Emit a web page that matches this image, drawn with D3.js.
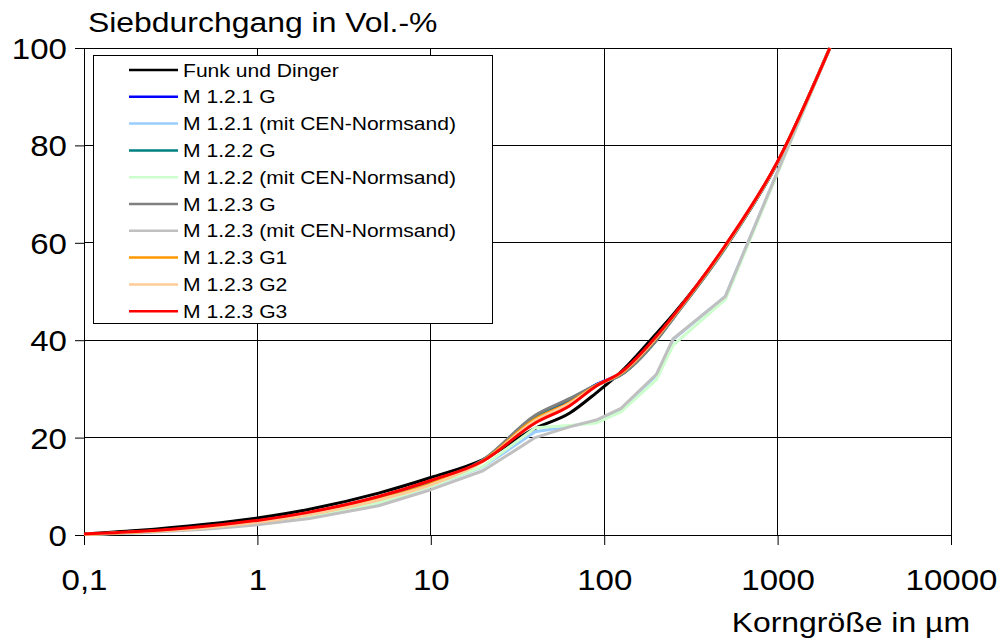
<!DOCTYPE html>
<html><head><meta charset="utf-8">
<script src="https://cdn.jsdelivr.net/npm/d3@7"></script>
<style>body{margin:0;background:#fff}svg{display:block}text{font-family:"Liberation Sans",Arial,sans-serif;fill:#000}</style>
</head><body><svg id="c" width="1000" height="641"></svg>
<script>
const sizes = [0.1, 0.2, 0.5, 1, 2, 5, 10, 20, 40, 63, 90, 125, 200, 250, 500, 1000, 2000];
const seriesNames = ["Funk und Dinger","M 1.2.1 G","M 1.2.1 (mit CEN-Normsand)","M 1.2.2 G","M 1.2.2 (mit CEN-Normsand)","M 1.2.3 G","M 1.2.3 (mit CEN-Normsand)","M 1.2.3 G1","M 1.2.3 G2","M 1.2.3 G3"];
const seriesColors = ["#000000","#0000ff","#99ccff","#008080","#ccffcc","#808080","#c0c0c0","#ff9900","#ffcc99","#ff0000"];
const seriesIsCEN = [false, false, true, false, true, false, true, false, false, false];
const funk    = [0.2, 0.9, 2.2, 3.5, 5.3, 8.6, 11.8, 15.5, 21.9, 25.0, 29.2, 33.5, 41.4, 45.3, 59.3, 76.6, 100];
const m121G   = [0.1, 0.6, 1.6, 2.8, 4.4, 7.5, 10.7, 15.3, 24.0, 27.5, 30.9, 33.2, 40.3, 44.8, 59.2, 76.5, 100];
const m121CEN = [0.1, 0.5, 1.4, 2.4, 3.8, 6.6, 10.0, 14.0, 21.2, 22.3, 23.4, 25.8, 32.8, 40.2, 49.0, 74.6, 100];
const m122G   = [0.1, 0.6, 1.6, 2.7, 4.3, 7.4, 10.6, 15.4, 24.4, 27.9, 30.8, 32.9, 40.0, 44.5, 59.0, 76.5, 100];
const m122CEN = [0.1, 0.5, 1.4, 2.4, 3.8, 6.6, 10.0, 14.1, 22.0, 22.5, 23.0, 25.3, 31.9, 39.0, 48.4, 74.3, 100];
const m123G   = [0.1, 0.6, 1.6, 2.7, 4.3, 7.4, 10.6, 15.4, 24.6, 28.0, 30.8, 32.9, 40.0, 44.5, 59.0, 76.5, 100];
const m123CEN = [0.1, 0.4, 1.2, 2.1, 3.4, 6.0, 9.3, 13.2, 20.0, 22.2, 23.6, 26.0, 33.0, 40.3, 49.0, 74.6, 100];
const m123G1  = [0.1, 0.6, 1.6, 2.7, 4.3, 7.3, 10.5, 15.2, 23.8, 27.2, 30.7, 33.2, 40.5, 44.8, 59.3, 76.6, 100];
const m123G2  = [0.1, 0.6, 1.5, 2.6, 4.2, 7.2, 10.3, 15.1, 23.5, 27.0, 30.6, 33.3, 40.6, 44.9, 59.4, 76.6, 100];
const m123G3  = [0.2, 0.7, 1.8, 3.0, 4.7, 7.9, 11.2, 15.2, 23.0, 26.5, 30.6, 33.4, 40.8, 45.0, 59.5, 76.7, 100];
const allSeries = [funk, m121G, m121CEN, m122G, m122CEN, m123G, m123CEN, m123G1, m123G2, m123G3];
const xTicks = [0.1, 1, 10, 100, 1000, 10000];
const xTickLabels = ["0,1", "1", "10", "100", "1000", "10000"];
const yTicks = [0, 20, 40, 60, 80, 100];
const titleY = "Siebdurchgang in Vol.-%";
const titleX = "Korngröße in µm";

const SX = 1.14;
const svg = d3.select("#c");
const x = d3.scaleLog().domain([0.1, 10000]).range([84, 951]);
const y = d3.scaleLinear().domain([0, 100]).range([535, 48]);

function stretchText(sel, tx, ty, anchor, size, str) {
  return sel.append("text")
    .attr("transform", `translate(${tx},${ty}) scale(${SX},1)`)
    .attr("text-anchor", anchor).style("font-size", size + "px").text(str);
}

// grid
const grid = svg.append("g").attr("stroke", "#000").attr("stroke-width", 1).attr("shape-rendering", "crispEdges");
grid.selectAll(".h").data(yTicks).join("line")
  .attr("x1", 84).attr("x2", 951).attr("y1", d => y(d)).attr("y2", d => y(d));
grid.selectAll(".v").data(xTicks).join("line")
  .attr("x1", d => x(d)).attr("x2", d => x(d)).attr("y1", 48).attr("y2", 535);

// axes
const ay = svg.append("g").attr("transform", "translate(84,0)")
  .call(d3.axisLeft(y).tickValues(yTicks).tickSize(9).tickPadding(8).tickFormat(d3.format("d")));
ay.select(".domain").attr("stroke", "#000");
ay.selectAll("line").attr("stroke", "#000");
ay.selectAll("text").style("font-size", "29px").attr("dy", "0.36em")
  .attr("x", -17 / SX).attr("transform", `scale(${SX},1)`);

const ax = svg.append("g").attr("transform", "translate(0,535)")
  .call(d3.axisBottom(x).tickValues(xTicks).tickSize(10).tickPadding(24).tickFormat((d, i) => xTickLabels[i]));
ax.select(".domain").attr("stroke", "#000");
ax.selectAll("line").attr("stroke", "#000");
ax.selectAll(".tick text").style("font-size", "29px").attr("dy", "0.71em").attr("transform", `scale(${SX},1)`);

// titles
stretchText(svg, 88, 32, "start", 28, titleY);
stretchText(svg, 970, 632, "end", 28, titleX);

// lines
const lineSmooth = d3.line().curve(d3.curveMonotoneX).x((d, i) => x(sizes[i])).y(d => y(d));
const lineStraight = d3.line().x((d, i) => x(sizes[i])).y(d => y(d));
svg.append("g").selectAll("path").data(allSeries).join("path")
  .attr("d", (d, i) => (seriesIsCEN[i] ? lineStraight : lineSmooth)(d)).attr("fill", "none")
  .attr("stroke", (d, i) => seriesColors[i]).attr("stroke-width", 3)
  .attr("stroke-linejoin", "round");

// legend
const lg = svg.append("g");
lg.append("rect").attr("x", 93.5).attr("y", 55.5).attr("width", 399).attr("height", 268)
  .attr("fill", "#fff").attr("stroke", "#000").attr("stroke-width", 1);
seriesNames.forEach((n, i) => {
  const cy = 70 + i * 26.8;
  lg.append("line").attr("x1", 129).attr("x2", 178).attr("y1", cy).attr("y2", cy)
    .attr("stroke", seriesColors[i]).attr("stroke-width", 2.5);
  stretchText(lg, 183, cy + 6.5, "start", 18.5, n);
});
</script></body></html>
